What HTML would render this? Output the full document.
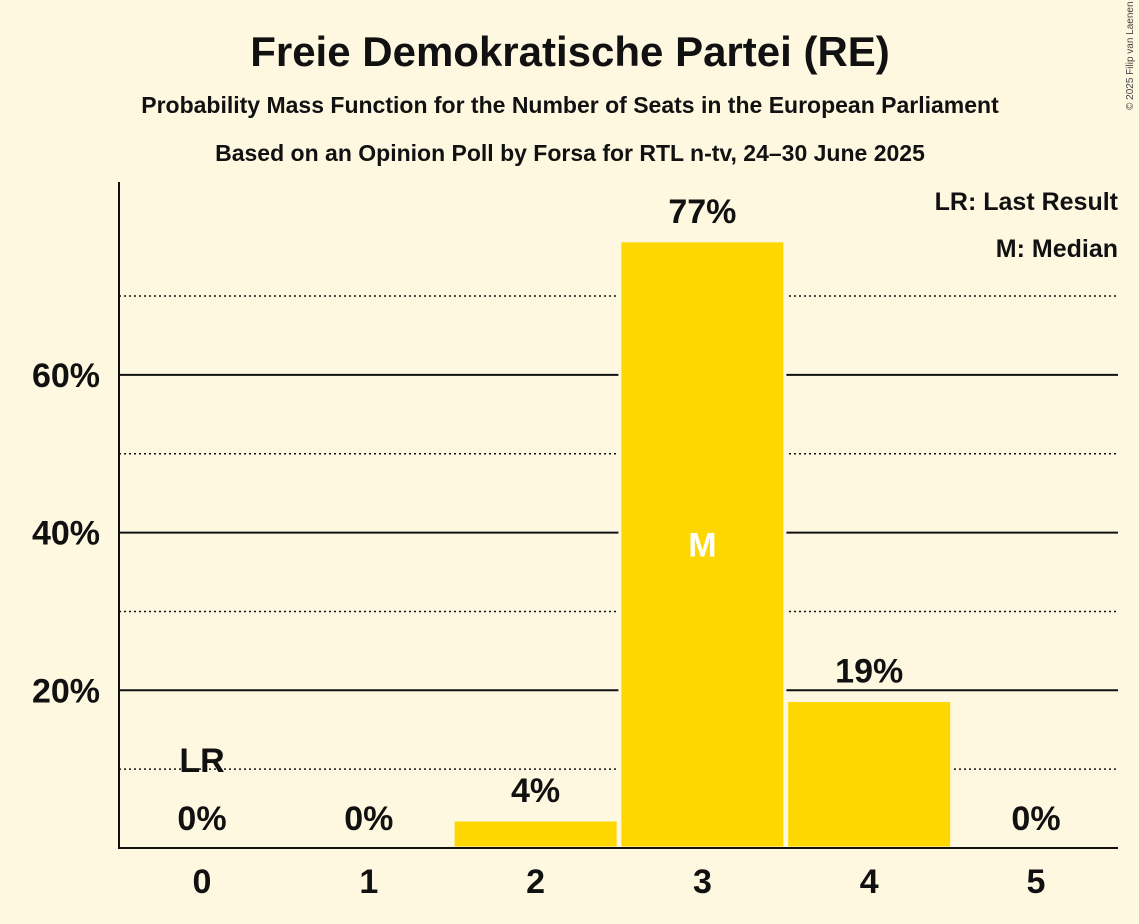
<!DOCTYPE html>
<html><head><meta charset="utf-8"><style>
body{margin:0;background:#fff8e1;}
svg{display:block;font-family:"Liberation Sans",sans-serif;}
</style></head><body>
<svg id="chart" width="1139" height="924">
<rect width="1139" height="924" fill="#fff8e1"/>
<text x="570" y="66" text-anchor="middle" font-size="42" font-weight="bold" fill="#111">Freie Demokratische Partei (RE)</text>
<text x="570" y="113" text-anchor="middle" font-size="23" font-weight="bold" fill="#111">Probability Mass Function for the Number of Seats in the European Parliament</text>
<text x="570" y="161" text-anchor="middle" font-size="23" font-weight="bold" fill="#111">Based on an Opinion Poll by Forsa for RTL n-tv, 24–30 June 2025</text>
<text x="1133" y="110" font-size="10" fill="#444" transform="rotate(-90 1133 110)">© 2025 Filip van Laenen</text>
<text x="1118" y="210" text-anchor="end" font-size="25" font-weight="bold" fill="#111">LR: Last Result</text>
<text x="1118" y="257" text-anchor="end" font-size="25" font-weight="bold" fill="#111">M: Median</text>
<g id="grid"></g><g id="bars"></g><g id="labels"></g>
<line x1="119" y1="182" x2="119" y2="849" stroke="#111" stroke-width="2"/>
<line x1="118" y1="848" x2="1118" y2="848" stroke="#111" stroke-width="2"/>
</svg>
<script>
const categories=[0,1,2,3,4,5];
const values=[0,0,3.55,77,18.7,0];
const valueLabels=["0%","0%","4%","77%","19%","0%"];
const yTicks=[20,40,60];
const yMinor=[10,30,50,70];
const lastResult=0, median=3;
const NS="http://www.w3.org/2000/svg";
const y=v=>848-v*7.885;
const x=c=>202+c*166.8;
function mk(t,a,p){const e=document.createElementNS(NS,t);for(const k in a)e.setAttribute(k,a[k]);p.appendChild(e);return e;}
const grid=document.getElementById('grid'),bars=document.getElementById('bars'),labels=document.getElementById('labels');
yMinor.forEach(v=>{const l=mk('line',{x1:119,x2:1118,y1:y(v),y2:y(v),stroke:'#111','stroke-width':1.5,'stroke-dasharray':'2,3'},grid);

});
yTicks.forEach(v=>{const l=mk('line',{x1:119,x2:1118,y1:y(v),y2:y(v),stroke:'#111','stroke-width':2},grid);


const t=mk('text',{x:100,y:y(v)+12,'text-anchor':'end','font-size':34,'font-weight':'bold',fill:'#111'},labels);t.textContent=v+'%';

});
categories.forEach((c,i)=>{
 if(values[i]>0){const r=mk('rect',{x:x(c)-82.5,y:y(values[i]),width:165,height:848-y(values[i]),fill:'#ffd700',stroke:'#fff8e1','stroke-width':3},bars);
 
 }
 const t=mk('text',{x:x(c),y:893,'text-anchor':'middle','font-size':34,'font-weight':'bold',fill:'#111'},labels);t.textContent=c;
 
 
 const vl=mk('text',{x:x(c),y:Math.min(y(values[i]),848)-18,'text-anchor':'middle','font-size':34,'font-weight':'bold',fill:'#111'},labels);vl.textContent=valueLabels[i];
 
 
 if(c===median){const m=mk('text',{x:x(c),y:y(values[i]/2)+12,'text-anchor':'middle','font-size':34,'font-weight':'bold',fill:'#fff'},labels);m.textContent='M';
 
 }
 if(c===lastResult){const m=mk('text',{x:x(c),y:772,'text-anchor':'middle','font-size':34,'font-weight':'bold',fill:'#111'},labels);m.textContent='LR';
 
 }
});
</script>
</body></html>
